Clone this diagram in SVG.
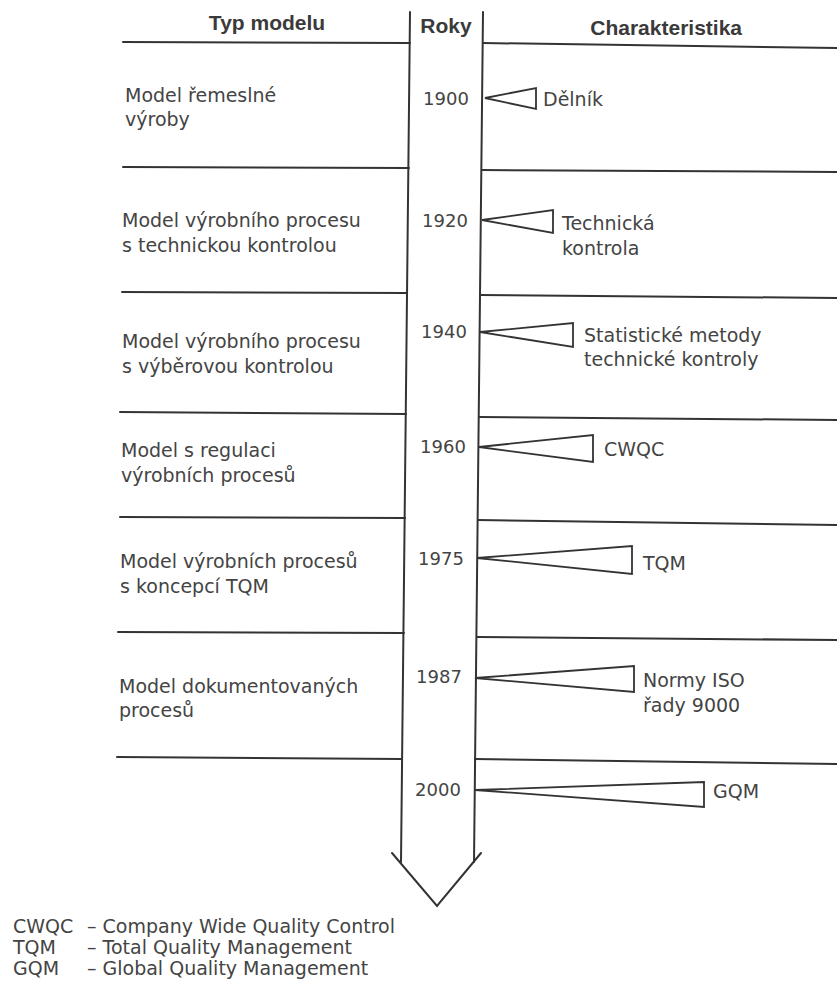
<svg xmlns="http://www.w3.org/2000/svg" width="837" height="983" viewBox="0 0 837 983">
<style>
.ln{stroke:#333;stroke-width:2;fill:none;stroke-linecap:round}
.tri{stroke:#333;stroke-width:1.8;fill:#fff;stroke-linejoin:miter}
.hd{font-family:"Liberation Sans",Arial,sans-serif;font-weight:bold;font-size:21px;fill:#3a3a3a}
.tx{font-family:"DejaVu Sans","Liberation Sans",sans-serif;font-size:19px;fill:#444}
.yr{font-family:"DejaVu Sans","Liberation Sans",sans-serif;font-size:18px;fill:#444;text-anchor:middle}
</style>
<rect width="837" height="983" fill="#fff"/>
<g id="connectors">
<path class="ln" d="M410,12 L401,862"/>
<path class="ln" d="M483,12 L474,862"/>
<path class="ln" d="M392,853 L437,906 L481,853"/>
<path class="ln" d="M123,42 L410,43 M483,43 L837,48"/>
<path class="ln" d="M123,167 L409,168 M482,170 L837,172"/>
<path class="ln" d="M122,292 L407,293 M480,295 L837,298"/>
<path class="ln" d="M120,412 L406,414 M479,417 L837,420"/>
<path class="ln" d="M120,517 L405,518 M478,520 L837,525"/>
<path class="ln" d="M118,632 L404,633 M477,637 L837,640"/>
<path class="ln" d="M117,757 L402,759 M475,759 L837,764"/>
</g>
<g id="header">
<text class="hd" x="267" y="30" text-anchor="middle">Typ modelu</text>
<text class="hd" x="446" y="33" text-anchor="middle">Roky</text>
<text class="hd" x="742" y="35" text-anchor="end">Charakteristika</text>
</g>
<g id="row-1900">
<text class="tx" x="125" y="102">Model řemeslné</text>
<text class="tx" x="125" y="126">výroby</text>
<text class="yr" x="446" y="105">1900</text>
<polygon class="tri" points="485,98 536,88 536,109"/>
<text class="tx" x="543" y="106">Dělník</text>
</g>
<g id="row-1920">
<text class="tx" x="122" y="227">Model výrobního procesu</text>
<text class="tx" x="122" y="252">s technickou kontrolou</text>
<text class="yr" x="445" y="227">1920</text>
<polygon class="tri" points="482,220 553,210 553,233"/>
<text class="tx" x="562" y="230">Technická</text>
<text class="tx" x="562" y="255">kontrola</text>
</g>
<g id="row-1940">
<text class="tx" x="122" y="348">Model výrobního procesu</text>
<text class="tx" x="122" y="373">s výběrovou kontrolou</text>
<text class="yr" x="444" y="338">1940</text>
<polygon class="tri" points="480,332 573,323 573,347"/>
<text class="tx" x="584" y="342">Statistické metody</text>
<text class="tx" x="584" y="366">technické kontroly</text>
</g>
<g id="row-1960">
<text class="tx" x="121" y="457">Model s regulaci</text>
<text class="tx" x="121" y="482">výrobních procesů</text>
<text class="yr" x="443" y="453">1960</text>
<polygon class="tri" points="479,447 593,435 593,462"/>
<text class="tx" x="604" y="456">CWQC</text>
</g>
<g id="row-1975">
<text class="tx" x="120" y="568">Model výrobních procesů</text>
<text class="tx" x="120" y="593">s koncepcí TQM</text>
<text class="yr" x="441" y="565">1975</text>
<polygon class="tri" points="477,558 632,546 632,574"/>
<text class="tx" x="643" y="570">TQM</text>
</g>
<g id="row-1987">
<text class="tx" x="119" y="693">Model dokumentovaných</text>
<text class="tx" x="119" y="717">procesů</text>
<text class="yr" x="439" y="683">1987</text>
<polygon class="tri" points="475,678 634,666 634,692"/>
<text class="tx" x="643" y="687">Normy ISO</text>
<text class="tx" x="643" y="712">řady 9000</text>
</g>
<g id="row-2000">
<text class="yr" x="438" y="796">2000</text>
<polygon class="tri" points="475,790 704,782 704,807"/>
<text class="tx" x="713" y="798">GQM</text>
</g>
<g id="legend">
<text class="tx" x="13" y="933">CWQC</text>
<text class="tx" x="87" y="933">– Company Wide Quality Control</text>
<text class="tx" x="13" y="954">TQM</text>
<text class="tx" x="87" y="954">– Total Quality Management</text>
<text class="tx" x="13" y="975">GQM</text>
<text class="tx" x="87" y="975">– Global Quality Management</text>
</g>
</svg>
